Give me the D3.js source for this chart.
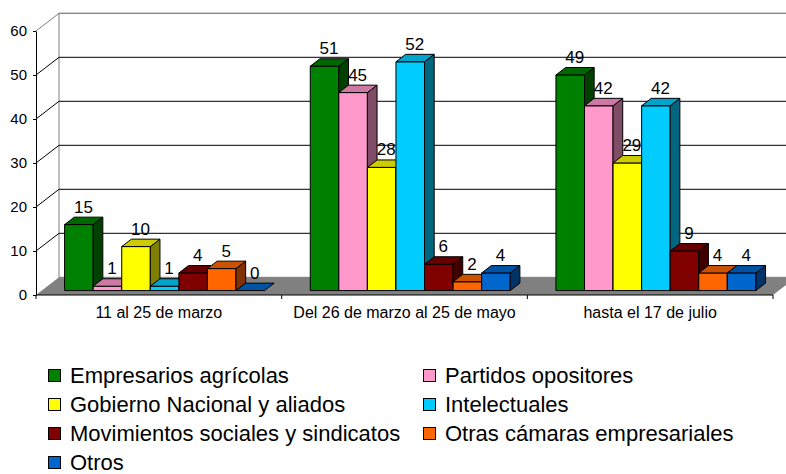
<!DOCTYPE html>
<html>
<head>
<meta charset="utf-8">
<script src="https://cdn.jsdelivr.net/npm/d3@7"></script>
<style>
  body { margin: 0; background: #fff; }
  text { font-family: "Liberation Sans", Arial, sans-serif; fill: #000; }
</style>
</head>
<body>
<div id="chart"></div>
<script>
// data
var categories = ["11 al 25 de marzo", "Del 26 de marzo al 25 de mayo", "hasta el 17 de julio"];
var seriesNames = ["Empresarios agrícolas", "Partidos opositores", "Gobierno Nacional y aliados",
                   "Intelectuales", "Movimientos sociales y sindicatos", "Otras cámaras empresariales", "Otros"];
var seriesColors = ["#008000", "#FF99CC", "#FFFF00", "#00CCFF", "#800000", "#FF6600", "#0066CC"];
var empresarios   = [15, 51, 49];
var partidos      = [1, 45, 42];
var gobierno      = [10, 28, 29];
var intelectuales = [1, 52, 42];
var movimientos   = [4, 6, 9];
var otrasCamaras  = [5, 2, 4];
var otros         = [0, 4, 4];
var yTicks = [0, 10, 20, 30, 40, 50, 60];

var seriesValues = [empresarios, partidos, gobierno, intelectuales, movimientos, otrasCamaras, otros];

// constants
const W = 786, H = 474;
const DX = 23, DY = -17.7;          // full depth offset of the 3d box
const BAR_FRONT = 0.25, BAR_BACK = 0.67;

var svg = d3.select('#chart').append('svg')
            .attr('width', W)
            .attr('height', H);
svg.append('rect').attr('width', W).attr('height', H).attr('fill', '#fff');

var y = d3.scaleLinear().domain([0, 60]).range([295, 31]);
var x0 = d3.scaleBand().domain(categories).range([36, 773]);
var x1 = d3.scaleBand().domain(seriesNames).range([0, x0.bandwidth()])
           .paddingInner(0).paddingOuter(0.8);

// project a point (front x, value, depth 0..1) to screen
function proj(x, v, d) {
  return [x + DX * d, y(v) + DY * d];
}
function poly(pts) {
  return 'M' + pts.map(p => p[0] + ',' + p[1]).join('L') + 'Z';
}
function shade(c, k) {
  var r = d3.rgb(c);
  return d3.rgb(r.r * k, r.g * k, r.b * k).formatHex();
}

var xl = x0.range()[0], xr = x0.range()[1];

// left side wall
svg.append('path')
   .attr('d', poly([proj(xl, 60, 0), proj(xl, 60, 1), proj(xl, 0, 1), proj(xl, 0, 0)]))
   .attr('fill', '#fff');

// back wall
var bTop = proj(xl, 60, 1), bBot = proj(xr, 0, 1);
svg.append('rect')
   .attr('x', bTop[0]).attr('y', bTop[1])
   .attr('width', bBot[0] - bTop[0]).attr('height', bBot[1] - bTop[1])
   .attr('fill', '#fff').attr('stroke', '#808080');

// gridlines on both walls
yTicks.filter(v => v > 0).forEach(function (v) {
  var col = v === 60 ? '#808080' : '#000';
  var a = proj(xl, v, 0), b = proj(xl, v, 1), c = proj(xr, v, 1);
  svg.append('path').attr('d', 'M' + a + 'L' + b + 'L' + c)
     .attr('fill', 'none').attr('stroke', col).attr('stroke-width', 1);
});

// floor
svg.append('path')
   .attr('d', poly([proj(xl, 0, 0), proj(xl, 0, 1), proj(xr, 0, 1), proj(xr, 0, 0)]))
   .attr('fill', '#808080');

// bars
var bars = [];
categories.forEach(function (cat, ci) {
  seriesNames.forEach(function (s, si) {
    bars.push({cat: cat, series: s, si: si, value: seriesValues[si][ci]});
  });
});

var barG = svg.append('g').selectAll('g.bar').data(bars).enter()
              .append('g').classed('bar', true);

barG.each(function (d) {
  var g = d3.select(this);
  var a = x0(d.cat) + x1(d.series);
  var b = a + x1.bandwidth();
  var col = seriesColors[d.si];
  var F = BAR_FRONT, B = BAR_BACK;
  if (d.value > 0) {
    g.append('path')
     .attr('d', poly([proj(a, d.value, F), proj(b, d.value, F), proj(b, 0, F), proj(a, 0, F)]))
     .attr('fill', col).attr('stroke', '#000');
    g.append('path')
     .attr('d', poly([proj(b, d.value, F), proj(b, d.value, B), proj(b, 0, B), proj(b, 0, F)]))
     .attr('fill', shade(col, 0.5)).attr('stroke', '#000');
  }
  g.append('path')
   .attr('d', poly([proj(a, d.value, F), proj(b, d.value, F), proj(b, d.value, B), proj(a, d.value, B)]))
   .attr('fill', shade(col, 0.8)).attr('stroke', '#000');
});

// value labels
svg.append('g').selectAll('text.val').data(bars).enter()
   .append('text').classed('val', true)
   .attr('x', d => proj(x0(d.cat) + x1(d.series) + x1.bandwidth() / 2, d.value, BAR_FRONT)[0] + 4.5)
   .attr('y', d => proj(0, d.value, BAR_FRONT)[1] - 12)
   .attr('text-anchor', 'middle')
   .style('font-size', '17px')
   .text(d => d.value);

// y axis
var yAxis = d3.axisLeft(y).tickValues(yTicks).tickSize(3).tickSizeOuter(0).tickPadding(6);
var ya = svg.append('g').attr('transform', 'translate(' + xl + ',0)').call(yAxis);
ya.selectAll('text').style('font-size', '15px').style('font-family', '"Liberation Sans", Arial, sans-serif');
ya.selectAll('path, line').attr('stroke', '#000');

// x axis line with ticks at category edges
svg.append('line').attr('x1', xl).attr('x2', xr).attr('y1', y(0)).attr('y2', y(0))
   .attr('stroke', '#000');
var edges = categories.map(c => x0(c)).concat([xr]);
svg.append('g').selectAll('line.xt').data(edges).enter()
   .append('line').classed('xt', true)
   .attr('x1', d => d).attr('x2', d => d)
   .attr('y1', y(0)).attr('y2', y(0) + 4)
   .attr('stroke', '#000');
svg.append('g').selectAll('text.cat').data(categories).enter()
   .append('text').classed('cat', true)
   .attr('x', d => x0(d) + x0.bandwidth() / 2)
   .attr('y', 318)
   .attr('text-anchor', 'middle')
   .style('font-size', '16px')
   .text(d => d);

// legend
var legend = svg.append('g').selectAll('g.leg').data(seriesNames).enter()
                .append('g').classed('leg', true)
                .attr('transform', (d, i) => 'translate(' + (i % 2 ? 423 : 48) + ',' + (383 + Math.floor(i / 2) * 29) + ')');
legend.append('rect')
      .attr('x', 0.5).attr('y', -13.5).attr('width', 12).attr('height', 12)
      .attr('fill', (d, i) => seriesColors[i]).attr('stroke', '#000');
legend.append('text')
      .attr('x', 22).attr('y', 0)
      .style('font-size', '22px')
      .text(d => d);
</script>
</body>
</html>
